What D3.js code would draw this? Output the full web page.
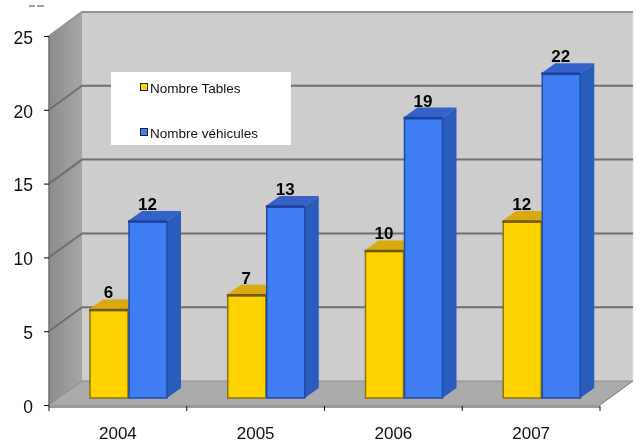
<!DOCTYPE html>
<html>
<head>
<meta charset="utf-8">
<script src="https://d3js.org/d3.v7.min.js"></script>
<style>
  * { margin: 0; padding: 0; }
  body { background: #fff; overflow: hidden; }
  svg { filter: blur(0.4px); }
  text { font-family: "Liberation Sans", Arial, sans-serif; fill: #111; }
</style>
</head>
<body>
<div id="chart"></div>
<script>
  const years = ["2004", "2005", "2006", "2007"];
  const seriesNames = ["Nombre Tables", "Nombre véhicules"];
  const tables = [6, 7, 10, 12];
  const vehicules = [12, 13, 19, 22];
  const yTicks = [0, 5, 10, 15, 20, 25];

  const width = 637, height = 443;
  const svg = d3.select("#chart").append("svg")
    .attr("width", width).attr("height", height);

  const x = d3.scaleBand().domain(years).range([49, 600]);
  const y = d3.scaleLinear().domain([0, 25]).range([405, 36]);
  const inner = d3.scaleBand().domain(seriesNames).range([40, 118]);

  // depth of the box and of the bars
  const dx = 33, dy = -24;
  const bdx = 14, bdy = -10, bshift = 7;

  const colors = [
    { front: "#ffd200", side: "#d8aa10", top: "#d8aa10", edge: "#8a7410", rim: "#6e5a08" },
    { front: "#3f7df2", side: "#2a5cbb", top: "#3562c8", edge: "#1f4aa6", rim: "#1c429c" }
  ];

  const poly = pts => pts.map(p => p.join(",")).join(" ");

  // walls
  const x0 = x.range()[0], x1 = x.range()[1];
  const defs = svg.append("defs");
  const wall = defs.append("linearGradient").attr("id", "wall");
  wall.append("stop").attr("offset", "0").attr("stop-color", "#8c8c8c");
  wall.append("stop").attr("offset", "1").attr("stop-color", "#a6a6a6");

  svg.append("polygon")
    .attr("points", poly([[x0 + dx, y(25) + dy], [x1 + dx, y(25) + dy], [x1 + dx, y(0) + dy], [x0 + dx, y(0) + dy]]))
    .attr("fill", "#cdcdcd");
  svg.append("polygon")
    .attr("points", poly([[x0, y(25)], [x0 + dx, y(25) + dy], [x0 + dx, y(0) + dy], [x0, y(0)]]))
    .attr("fill", "url(#wall)");
  svg.append("polygon")
    .attr("points", poly([[x0, y(0)], [x0 + dx, y(0) + dy], [x1 + dx, y(0) + dy], [x1, y(0)]]))
    .attr("fill", "#ababab");
  svg.append("line")
    .attr("x1", x0).attr("x2", x1).attr("y1", y(0) + 1.5).attr("y2", y(0) + 1.5)
    .attr("stroke", "#9a9a9a").attr("stroke-width", 3);
  svg.append("line")
    .attr("x1", x1 + dx).attr("x2", x1 + dx).attr("y1", y(25) + dy).attr("y2", y(0) + dy)
    .attr("stroke", "#e2e2e2").attr("stroke-width", 1);
  svg.append("line")
    .attr("x1", x1).attr("x2", x1 + dx).attr("y1", y(0)).attr("y2", y(0) + dy)
    .attr("stroke", "#777").attr("stroke-width", 1);

  // grid lines
  yTicks.forEach(t => {
    const c = t == 25 ? "#949494" : "#6f6f6f";
    svg.append("polyline")
      .attr("points", poly([[x0, y(t)], [x0 + dx, y(t) + dy], [x1 + dx, y(t) + dy]]))
      .attr("fill", "none")
      .attr("stroke", t == 0 ? "#8a8a8a" : c)
      .attr("stroke-width", t == 0 ? 1 : 2);
  });
  svg.append("line")
    .attr("x1", x0).attr("x2", x0).attr("y1", y(25)).attr("y2", y(0))
    .attr("stroke", "#6f6f6f").attr("stroke-width", 1.5);

  // axes
  const yAxis = d3.axisLeft(y).tickValues(yTicks).tickSize(5).tickPadding(11);
  const gy = svg.append("g").attr("transform", "translate(" + x0 + ",0)").call(yAxis);
  gy.select(".domain").remove();
  gy.selectAll("text").attr("dy", "0.42em").style("font-size", "17.5px").style("font-family", "Liberation Sans");

  const xAxis = d3.axisBottom(x).tickSize(0).tickPadding(22);
  const gx = svg.append("g").attr("transform", "translate(0,405)").call(xAxis);
  gx.select(".domain").remove();
  gx.selectAll("text").style("font-size", "17px").style("font-family", "Liberation Sans");
  svg.selectAll(".xsep")
    .data(years.concat("end"))
    .enter().append("line")
    .attr("class", "xsep")
    .attr("x1", (d, i) => i < 4 ? x(d) : x1)
    .attr("x2", (d, i) => i < 4 ? x(d) : x1)
    .attr("y1", 406).attr("y2", 411)
    .attr("stroke", "#111").attr("stroke-width", 1);

  // cut off remains of a label above the chart
  [[29, 35], [37, 44]].forEach(d => {
    svg.append("line")
      .attr("x1", d[0]).attr("x2", d[1]).attr("y1", 6).attr("y2", 6)
      .attr("stroke", "#444").attr("stroke-width", 1);
  });

  // bars, left to right so the neighbour overlaps
  const values = [tables, vehicules];
  years.forEach((yr, i) => {
    seriesNames.forEach((s, j) => {
      const v = values[j][i], c = colors[j];
      const l = x(yr) + inner(s), r = l + inner.bandwidth();
      const t = y(v) - bshift, b = y(0) - bshift;
      const g = svg.append("g");
      g.append("polygon")
        .attr("points", poly([[l, t], [l + bdx, t + bdy], [r + bdx, t + bdy], [r, t]]))
        .attr("fill", c.top);
      g.append("polygon")
        .attr("points", poly([[r, t], [r + bdx, t + bdy], [r + bdx, b + bdy], [r, b]]))
        .attr("fill", c.side);
      g.append("rect")
        .attr("x", l + 1).attr("y", t + 1)
        .attr("width", r - l - 1).attr("height", b - t - 1)
        .attr("fill", c.front).attr("stroke", c.edge).attr("stroke-width", 1.5);
      g.append("line")
        .attr("x1", l).attr("x2", r).attr("y1", t + 0.5).attr("y2", t + 0.5)
        .attr("stroke", c.rim).attr("stroke-width", 2.5);
    });
  });

  // value labels, drawn after so they stay on top
  years.forEach((yr, i) => {
    seriesNames.forEach((s, j) => {
      svg.append("text")
        .attr("x", x(yr) + inner(s) + inner.bandwidth() / 2)
        .attr("y", y(values[j][i]) - bshift + bdy - 1)
        .attr("text-anchor", "middle")
        .style("font-size", "17px").style("font-weight", "bold")
        .style("fill", "#000")
        .text(values[j][i]);
    });
  });

  // legend
  const legend = svg.append("g");
  legend.append("rect")
    .attr("x", 111).attr("y", 72).attr("width", 180).attr("height", 73)
    .attr("fill", "#fff");
  const legendY = d3.scalePoint().domain(seriesNames).range([88, 133]);
  seriesNames.forEach((s, j) => {
    legend.append("rect")
      .attr("x", 140.5).attr("y", legendY(s) - 4.5).attr("width", 7).attr("height", 7)
      .attr("fill", colors[j].front).attr("stroke", "#222").attr("stroke-width", 1);
    legend.append("text")
      .attr("x", 150).attr("y", legendY(s) + 5)
      .style("font-size", "13.5px")
      .text(s);
  });
</script>
</body>
</html>
